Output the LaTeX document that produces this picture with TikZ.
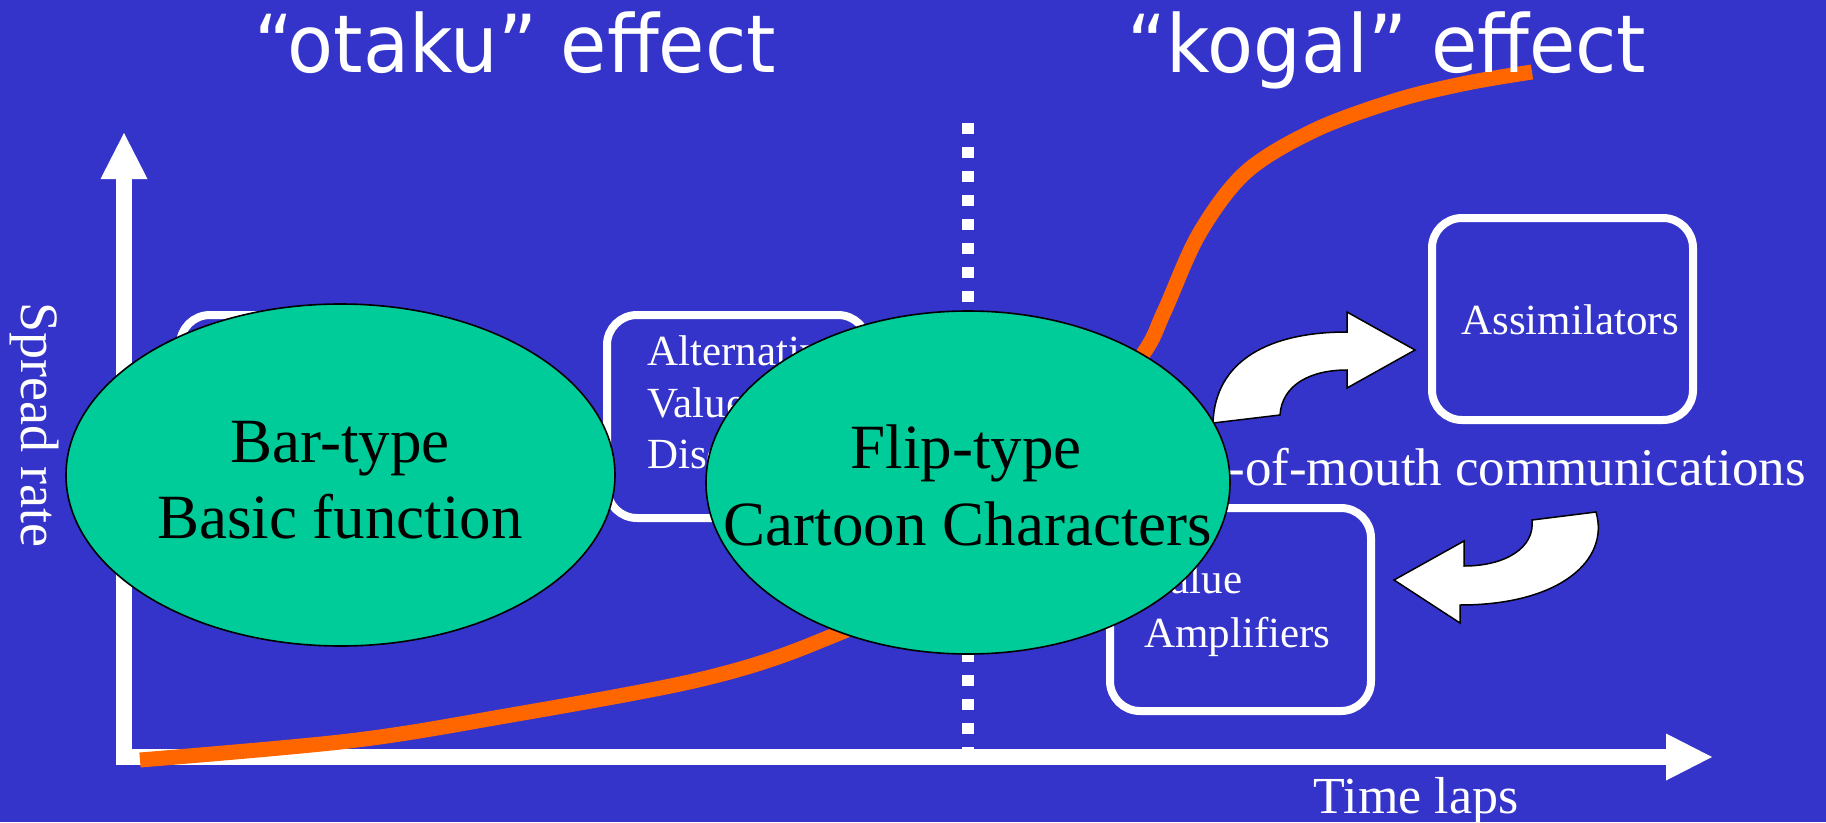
\documentclass[tikz,border=0pt]{standalone}
\usepackage{fontspec}
\setmainfont{Liberation Serif}
\newfontfamily\titlefont[FakeStretch=0.94]{DejaVu Sans}
\usetikzlibrary{shapes.geometric,arrows.meta}
\definecolor{slideblue}{RGB}{52,52,202}
\definecolor{bubble}{RGB}{0,204,153}
\definecolor{trend}{RGB}{255,102,0}

\begin{document}
\begin{tikzpicture}[x=1pt,y=-1pt,
  axisline/.style={white, line width=16pt, -{Triangle[width=47pt,length=46pt,line width=0pt]}},
  rbox/.style={draw=white, line width=8pt, rounded corners=30pt, fill=slideblue,
    inner sep=0pt, minimum width=261pt, minimum height=203pt},
  boxtext/.style={text=white, font=\fontsize{43pt}{52pt}\selectfont, inner sep=0pt},
  bubblenode/.style={ellipse, draw=black, line width=1.6pt, fill=bubble, inner sep=0pt},
  bubbletext/.style={text=black, font=\fontsize{63pt}{76pt}\selectfont, inner sep=0pt, anchor=base},
  headline/.style={text=white, font=\titlefont\fontsize{80pt}{96pt}\selectfont, inner sep=0pt, anchor=base},
  axislabel/.style={text=white, inner sep=0pt},
  bent/.style={fill=white, draw=black, line width=1.5pt, line join=miter}
]
% canvas
\useasboundingbox (0,0) rectangle (1826,822);
\fill[slideblue] (0,0) rectangle (1826,822);

% phase divider
\coordinate (divtop) at (968,123);
\coordinate (divbot) at (968,757);
\draw[white, line width=12pt, dash pattern=on 11pt off 13pt] (divtop) -- (divbot);

% axes
\coordinate (origin) at (124,765);
\coordinate (xstart) at (116,757);
\coordinate (ytip) at (124,133);
\coordinate (xtip) at (1712,757);
\draw[axisline] (origin) -- (ytip);
\draw[axisline] (xstart) -- (xtip);

% diffusion curve
\draw[trend, line width=15pt] plot[smooth, tension=0.55] coordinates {
  (140,760) (349,741) (500,717) (698,680) (815,643) (930,585) (1060,462)
  (1141,357) (1164,312) (1199,234) (1246,172) (1315,130) (1397,100) (1467,83) (1532,72)};

% segment boxes
\node[rbox] (box1) at (310.5,416.5) {};
\node[rbox] (altbox) at (737.5,416.5) {};
\node[boxtext, anchor=base west] (alt1) at (647,365) {Alternative};
\node[boxtext, anchor=base west] (alt2) at (647,417) {Value};
\node[boxtext, anchor=base west] (alt3) at (647,468) {Discoverers};

\node[rbox] (ampbox) at (1240.5,609.5) {};
\node[boxtext, anchor=base west] (amp1) at (1144,593) {Value};
\node[boxtext, anchor=base west] (amp2) at (1144,647) {Amplifiers};

\node[rbox, minimum height=202pt] (assbox) at (1562.5,319) {};
\node[boxtext, anchor=base] (ass1) at (1570,334) {Assimilators};

% word-of-mouth loop
\filldraw[bent] (1213,423) .. controls (1215,360) and (1270,332) .. (1347,332)
  -- (1347,312) -- (1415,350) -- (1347,388) -- (1347,370)
  .. controls (1310,370) and (1282,385) .. (1280,415) -- cycle;
\filldraw[bent] (1596,512) .. controls (1610,560) and (1560,605) .. (1460,605)
  -- (1460,623) -- (1394,580) -- (1464,541) -- (1464,566)
  .. controls (1505,566) and (1535,548) .. (1532,520) -- cycle;
\node[axislabel, anchor=base east, font=\fontsize{53pt}{60pt}\selectfont] (wom) at (1806,485)
  {Word-of-mouth communications};

% product types
\node[bubblenode, minimum width=549pt, minimum height=342pt] (bar) at (340.5,475) {};
\node[bubbletext] (bar1) at (340,462) {Bar-type};
\node[bubbletext] (bar2) at (340,538) {Basic function};

\node[bubblenode, minimum width=524pt, minimum height=343pt] (flip) at (968,482.5) {};
\node[bubbletext] (flip1) at (966,468) {Flip-type};
\node[bubbletext] (flip2) at (968,545) {Cartoon Characters};

% axis labels
\node[axislabel, rotate=-90, anchor=base, font=\fontsize{54pt}{60pt}\selectfont] (ylab) at (21,425) {Spread rate};
\node[axislabel, anchor=base, font=\fontsize{52pt}{60pt}\selectfont] (xlab) at (1416,813) {Time laps};

% headings
\node[headline] (otaku) at (515,72) {“otaku” effect};
\node[headline] (kogal) at (1387,72) {“kogal” effect};
\end{tikzpicture}
\end{document}
